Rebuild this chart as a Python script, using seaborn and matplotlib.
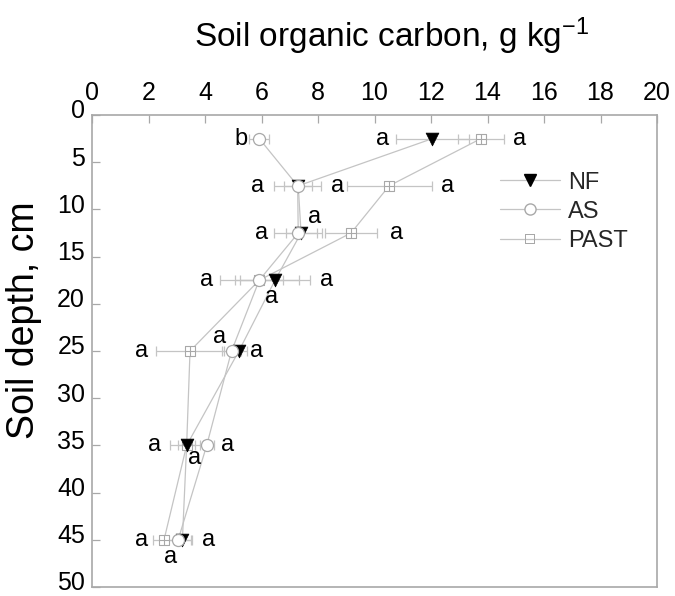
import numpy as np
import pandas as pd
import matplotlib
matplotlib.use("Agg")
import matplotlib.pyplot as plt
import matplotlib.transforms as mtransforms
from matplotlib.lines import Line2D
import seaborn as sns

# ---------------- data ----------------
depth = [2.5, 7.5, 12.5, 17.5, 25, 35, 45]
systems = ["NF", "AS", "PAST"]

nf_mean = [12.05, 7.30, 7.40, 6.48, 5.20, 3.35, 3.20]
nf_err = [1.30, 0.50, 0.55, 1.25, 0.30, 0.59, 0.30]
as_mean = [5.92, 7.28, 7.30, 5.92, 4.94, 4.06, 3.05]
as_err = [0.35, 0.83, 0.85, 1.40, 0.35, 0.25, 0.48]
past_mean = [13.77, 10.52, 9.17, 5.92, 3.47, 3.35, 2.55]
past_err = [0.83, 1.50, 0.91, 0.85, 1.20, 0.30, 0.38]

nf_letters = ["a", "a", "a", "a", "a", "a", "a"]
as_letters = ["b", "a", "a", "a", "a", "a", "a"]
past_letters = ["a", "a", "a", "a", "a", "a", "a"]

x_ticks = [0, 2, 4, 6, 8, 10, 12, 14, 16, 18, 20]
y_ticks = [0, 5, 10, 15, 20, 25, 30, 35, 40, 45, 50]

means = {"NF": nf_mean, "AS": as_mean, "PAST": past_mean}
errs = {"NF": nf_err, "AS": as_err, "PAST": past_err}
letters = {"NF": nf_letters, "AS": as_letters, "PAST": past_letters}

df = pd.DataFrame({
    "system": np.repeat(systems, len(depth)),
    "depth": depth * len(systems),
    "soc": nf_mean + as_mean + past_mean,
    "err": nf_err + as_err + past_err,
})

# ---------------- layout / style (pixel offsets of letter labels) ----------------
label_offsets = {
    "NF":   [(-50, 0), (39, 0), (14, 16), (52, 0), (18, 0), (-32, 0), (-12, -17)],
    "AS":   [(-18, 0), (-40, 0), (-37, 0), (-53, 0), (-12, 14), (21, 0), (30, 0)],
    "PAST": [(39, 0), (58, 0), (46, 0), (12, -17), (-48, 0), (8, -13), (-22, 0)],
}

LINE_C = "#c4c4c4"
EDGE_C = "#a8a8a8"

sns.set_theme(style="white")
plt.rcParams["font.family"] = ["Liberation Sans", "DejaVu Sans"]
plt.rcParams["mathtext.fontset"] = "custom"
plt.rcParams["mathtext.rm"] = "Liberation Sans"
plt.rcParams["mathtext.it"] = "Liberation Sans"

fig = plt.figure(figsize=(6.75, 5.96), dpi=100)
ax = fig.add_axes([92 / 675, 1 - 587 / 596, 565 / 675, 472 / 596])

# connecting lines
sns.lineplot(data=df, x="soc", y="depth", hue="system", hue_order=systems,
             palette=[LINE_C] * 3, sort=False, orient="y", estimator=None,
             linewidth=0.9, legend=False, ax=ax, zorder=2)

# error bars
for s in systems:
    ax.errorbar(means[s], depth, xerr=errs[s], fmt="none", ecolor=LINE_C,
                elinewidth=0.9, capsize=3.5, capthick=0.9, zorder=3)

# markers
sub = df[df.system == "PAST"]
sns.scatterplot(data=sub, x="soc", y="depth", marker="s", s=45, color="white",
                edgecolor=EDGE_C, linewidth=0.8, ax=ax, zorder=4, legend=False)
sns.scatterplot(data=sub, x="soc", y="depth", marker="+", s=45, color=EDGE_C,
                linewidth=0.8, ax=ax, zorder=5, legend=False)
sub = df[df.system == "NF"]
sns.scatterplot(data=sub, x="soc", y="depth", marker="v", s=85, color="black",
                edgecolor="black", linewidth=0.5, ax=ax, zorder=6, legend=False)
sub = df[df.system == "AS"]
sns.scatterplot(data=sub, x="soc", y="depth", marker="o", s=75, color="white",
                edgecolor=EDGE_C, linewidth=0.9, ax=ax, zorder=7, legend=False)

# letters
for s in systems:
    for i, d in enumerate(depth):
        dx, dy = label_offsets[s][i]
        ax.annotate(letters[s][i], (means[s][i], d), xytext=(dx, dy),
                    textcoords="offset pixels", ha="center", va="center",
                    fontsize=17, color="black", zorder=8)

# axes
ax.set_xlim(0, 20)
ax.set_ylim(50, 0)
ax.set_xticks(x_ticks)
ax.set_yticks(y_ticks)
ax.xaxis.tick_top()
ax.xaxis.set_label_position("top")
ax.tick_params(axis="both", direction="in", length=6, width=0.9, color=EDGE_C,
               labelsize=18, labelcolor="black")
ax.tick_params(axis="x", pad=7, top=True, bottom=False)
ax.tick_params(axis="y", pad=5, left=True, right=False)
for sp in ax.spines.values():
    sp.set_color(EDGE_C)
    sp.set_linewidth(1.2)

# y tick labels sit slightly above their ticks in the reference
shift = mtransforms.ScaledTranslation(0, 6 / 100, fig.dpi_scale_trans)
for lab in ax.get_yticklabels():
    lab.set_transform(lab.get_transform() + shift)

ax.set_xlabel("Soil organic carbon, g kg$^{-1}$", fontsize=24, color="black")
ax.set_ylabel("Soil depth, cm", fontsize=27, color="black")
ax.xaxis.set_label_coords(0.531, 1.144)
ax.yaxis.set_label_coords(-0.0885, 0.566)

# legend
handles = [
    Line2D([], [], color=LINE_C, lw=0.9, marker="v", markersize=9,
           markerfacecolor="black", markeredgecolor="black"),
    Line2D([], [], color=LINE_C, lw=0.9, marker="o", markersize=8,
           markerfacecolor="white", markeredgecolor=EDGE_C),
    Line2D([], [], color=LINE_C, lw=0.9, marker="$\\boxplus$", markersize=7,
           markerfacecolor=EDGE_C, markeredgecolor=EDGE_C, markeredgewidth=0),
]
ax.legend(handles, systems, loc="upper left", bbox_to_anchor=(0.722, 0.88),
          frameon=False, fontsize=17, handlelength=2.55, handletextpad=0.35,
          labelspacing=0.3, borderpad=0, borderaxespad=0)

fig.savefig("out.png", dpi=100)
